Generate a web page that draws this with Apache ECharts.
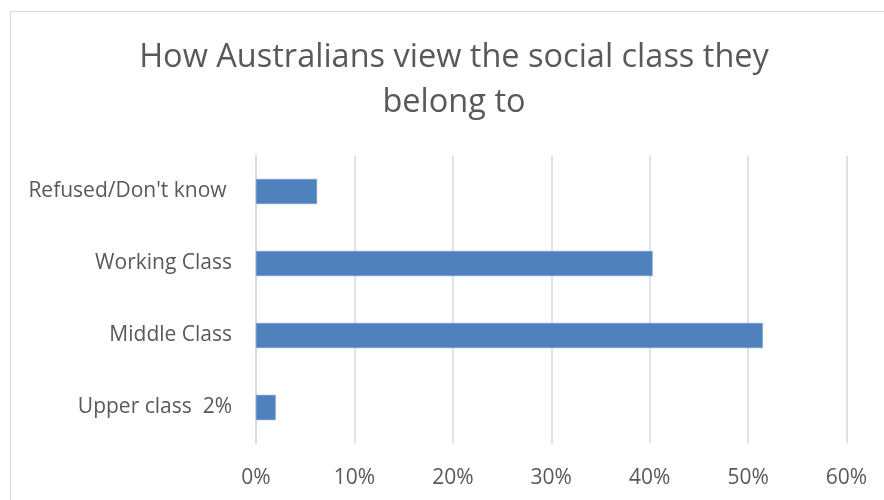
<!DOCTYPE html>
<html>
<head>
<meta charset="utf-8">
<script src="https://cdn.jsdelivr.net/npm/echarts@6/dist/echarts.min.js"></script>
<style>
  html, body { margin: 0; padding: 0; background: #ffffff; }
  #chart { width: 884px; height: 500px; }
</style>
</head>
<body>
<div id="chart"></div>
<script>
// Survey categories (bottom to top) and share of respondents
const categories = ['Upper class  2%', 'Middle Class', 'Working Class', "Refused/Don't know "];
const shares = [0.02, 0.515, 0.403, 0.062];
const tickMax = 0.6;
const tickStep = 0.1;

const textColor = '#595959';
const fontFamily = '"Open Sans", "Noto Sans", sans-serif';

const chart = echarts.init(document.getElementById('chart'), null, { renderer: 'canvas' });
chart.setOption({
  backgroundColor: '#ffffff',
  animation: false,
  graphic: [{
    type: 'rect',
    shape: { x: 10.5, y: 11.5, width: 1000, height: 1000 },
    style: { fill: 'none', stroke: '#d9d9d9', lineWidth: 1 },
    silent: true
  }],
  title: {
    text: 'How Australians view the social class they\nbelong to',
    left: 449,
    textAlign: 'center',
    top: 30,
    textStyle: {
      color: textColor,
      fontFamily: fontFamily,
      fontWeight: 'normal',
      fontSize: 32.5,
      lineHeight: 45
    }
  },
  grid: { left: 256, right: 37.5, top: 155.5, bottom: 56.5, containLabel: false },
  xAxis: {
    type: 'value',
    min: 0,
    max: tickMax,
    interval: tickStep,
    axisLine: { show: false },
    axisTick: { show: false },
    splitLine: { show: true, lineStyle: { color: '#d9d9d9', width: 1.5 } },
    axisLabel: {
      color: textColor,
      fontFamily: fontFamily,
      fontSize: 21,
      margin: 24,
      formatter: v => Math.round(v * 100) + '%'
    }
  },
  yAxis: {
    type: 'category',
    data: categories,
    axisLine: { show: true, lineStyle: { color: '#d9d9d9', width: 1.5 } },
    axisTick: { show: false },
    axisLabel: {
      color: textColor,
      fontFamily: fontFamily,
      fontSize: 21,
      margin: 24,
      padding: [3, 0, 0, 0]
    }
  },
  series: [{
    type: 'bar',
    data: shares,
    barWidth: '35%',
    itemStyle: { color: '#4f81bd', borderColor: '#7a9fcf', borderWidth: 0.5 }
  }]
});
</script>
</body>
</html>
